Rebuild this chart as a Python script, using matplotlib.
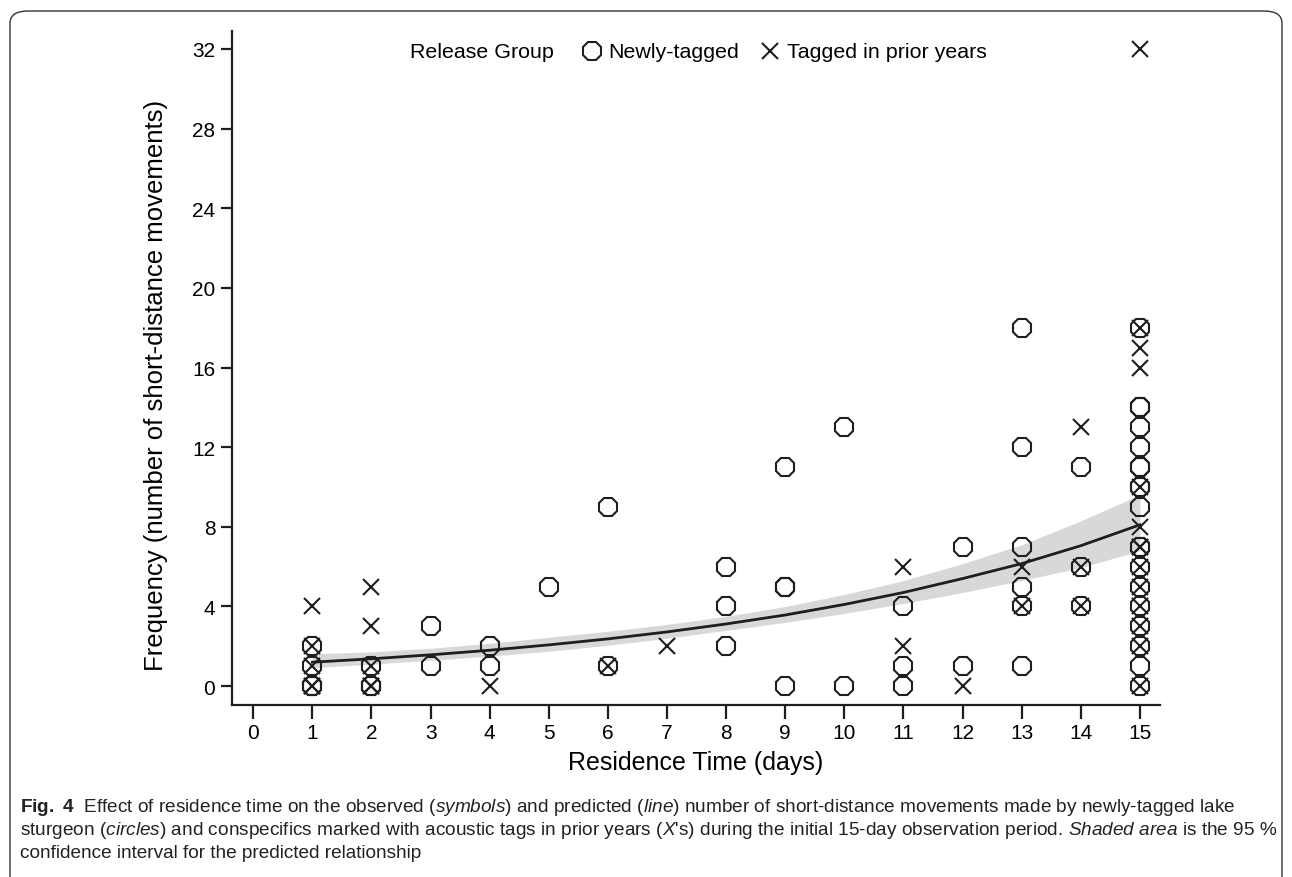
import matplotlib
matplotlib.use("Agg")
import matplotlib.pyplot as plt
from matplotlib import font_manager
from matplotlib.lines import Line2D
from matplotlib.patches import FancyBboxPatch

# ── Data ──────────────────────────────────────
# newly-tagged fish (circles)
new_x = [1, 1, 1, 1, 2, 2, 2, 3, 3, 4, 4, 5, 6, 6, 8, 8, 8, 9, 9, 9, 9,
         10, 10, 11, 11, 11, 12, 12, 13, 13, 13, 13, 13, 13, 14, 14, 14]
new_y = [0, 0, 1, 2, 0, 0, 1, 1, 3, 1, 2, 5, 1, 9, 2, 4, 6, 0, 5, 5, 11,
         0, 13, 0, 1, 4, 1, 7, 1, 4, 5, 7, 12, 18, 4, 6, 11]
new_x15 = [15] * 19
new_y15 = [0, 1, 2, 3, 4, 5, 6, 7, 7, 9, 10, 10, 11, 11, 12, 13, 14, 14, 18]

# tagged in prior years (X's)
prior_x = [1, 1, 1, 1, 1, 2, 2, 2, 2, 2, 4, 6, 7, 11, 11, 12, 13, 13,
           14, 14, 14]
prior_y = [0, 0, 1, 2, 4, 0, 0, 1, 3, 5, 0, 1, 2, 2, 6, 0, 4, 6,
           4, 6, 13]
prior_x15 = [15] * 14
prior_y15 = [0, 2, 3, 4, 5, 6, 7, 7, 8, 10, 16, 17, 18, 32]

# predicted line and 95 % band, read at each day
fit_x = [1, 2, 3, 4, 5, 6, 7, 8, 9, 10, 11, 12, 13, 14, 15]
fit_y = [1.2, 1.37, 1.57, 1.8, 2.07, 2.37, 2.72, 3.12, 3.57, 4.1,
         4.7, 5.4, 6.15, 7.05, 8.1]
ci_lo = [0.92, 1.1, 1.3, 1.5, 1.75, 2.05, 2.4, 2.8, 3.2, 3.65,
         4.15, 4.7, 5.3, 5.95, 6.8]
ci_hi = [1.62, 1.72, 1.9, 2.15, 2.45, 2.75, 3.1, 3.5, 4.0, 4.6,
         5.3, 6.15, 7.1, 8.3, 9.6]

x_ticks = list(range(0, 16))
y_ticks = list(range(0, 33, 4))

# ── Fonts ─────────────────────────────────────
names = {f.name for f in font_manager.fontManager.ttflist}
narrow = "Liberation Sans Narrow" if "Liberation Sans Narrow" in names else "Liberation Sans"
plt.rcParams["font.family"] = [narrow, "DejaVu Sans"]
plt.rcParams["mathtext.fontset"] = "custom"
plt.rcParams["mathtext.rm"] = narrow
plt.rcParams["mathtext.it"] = narrow + ":italic"
plt.rcParams["mathtext.bf"] = narrow + ":bold"

INK = "#1e1e1e"

fig = plt.figure(figsize=(12.92, 8.78), dpi=100)
W, H = 1292.0, 878.0

# rounded outer frame (bottom edge runs off the picture)
frame = FancyBboxPatch((10 / W, -20 / H), 1272 / W, 886 / H,
                       boxstyle="round,pad=0,rounding_size=0.014",
                       transform=fig.transFigure, fill=False,
                       edgecolor="#333333", linewidth=1.0)
fig.patches.append(frame)

ax = fig.add_axes([232 / W, 172 / H, 928 / W, 674 / H])

ax.fill_between(fit_x, ci_lo, ci_hi, color="#d8d8d8", linewidth=0, zorder=1)
ax.plot(fit_x, fit_y, color=INK, linewidth=2.0, zorder=2)

circ = dict(marker="8", markersize=13.5, markerfacecolor="none",
            markeredgecolor=INK, markeredgewidth=1.5, linestyle="none", zorder=3)
cross = dict(marker="x", markersize=11, markeredgecolor=INK,
             markeredgewidth=1.5, linestyle="none", zorder=4)

ax.plot(new_x + new_x15, new_y + new_y15, **circ)
ax.plot(prior_x + prior_x15, prior_y + prior_y15, **cross)

ax.set_xlim(-0.36, 15.34)
ax.set_ylim(-0.95, 32.9)
ax.set_xticks(x_ticks)
ax.set_yticks(y_ticks)
ax.spines["top"].set_visible(False)
ax.spines["right"].set_visible(False)
for s in ("left", "bottom"):
    ax.spines[s].set_linewidth(1.6)
    ax.spines[s].set_color(INK)
ax.tick_params(axis="both", direction="out", color=INK, width=1.6,
               labelsize=15, labelcolor="black")
ax.tick_params(axis="x", length=10, pad=3)
ax.tick_params(axis="y", length=8, pad=4)

ax.set_xlabel("Residence Time (days)", fontsize=18)
ax.set_ylabel("Frequency (number of short-distance movements)", fontsize=18.5)
ax.xaxis.set_label_coords(0.5, -0.067)
ax.yaxis.set_label_coords(-0.069, 0.476)

# legend across the top, laid out by hand
ly = 1 - 52 / H
fig.text(410 / W, ly, "Release Group", fontsize=15.4, va="center")
fig.add_artist(Line2D([592 / W], [ly], transform=fig.transFigure, **circ))
fig.text(608 / W, ly, "Newly-tagged", fontsize=15.4, va="center")
fig.add_artist(Line2D([770 / W], [ly], transform=fig.transFigure, **cross))
fig.text(787 / W, ly, "Tagged in prior years", fontsize=15.4, va="center")

# caption
cap = [
    r"$\mathbf{Fig.\ 4}$  Effect of residence time on the observed ($\mathit{symbols}$) "
    r"and predicted ($\mathit{line}$) number of short-distance movements made by newly-tagged lake",
    r"sturgeon ($\mathit{circles}$) and conspecifics marked with acoustic tags in prior years "
    r"($\mathit{X}$'s) during the initial 15-day observation period. $\mathit{Shaded\ area}$ is the 95 %",
    "confidence interval for the predicted relationship",
]
for i, line in enumerate(cap):
    fig.text(20 / W, 1 - (808 + 23 * i) / H, line, fontsize=13.7,
             va="center", ha="left", color="#222222")

fig.savefig("out.png", dpi=100)
